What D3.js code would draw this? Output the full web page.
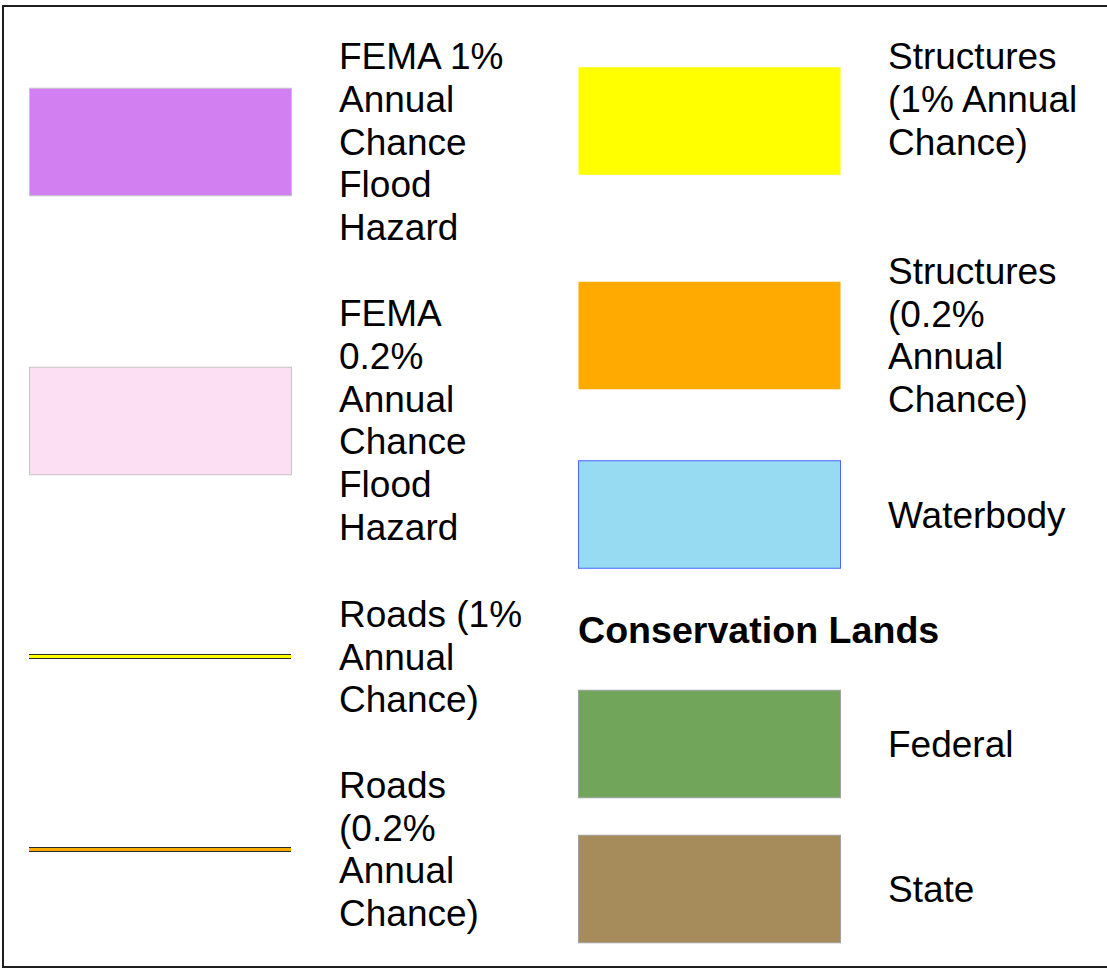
<!DOCTYPE html>
<html>
<head>
<meta charset="utf-8">
<script src="https://cdn.jsdelivr.net/npm/d3@7"></script>
<style>
html,body{margin:0;padding:0;background:#fff;}
svg{display:block;}
</style>
</head>
<body>
<svg id="chart" width="1107" height="969"></svg>
<script>
// ---- data ----
const leftLabels = [
  ["FEMA 1%", "Annual", "Chance", "Flood", "Hazard"],
  ["FEMA", "0.2%", "Annual", "Chance", "Flood", "Hazard"],
  ["Roads (1%", "Annual", "Chance)"],
  ["Roads", "(0.2%", "Annual", "Chance)"]
];
const leftKinds = ["fill", "fill", "road", "road"];
const leftColors = ["#d27ff1", "#fddff4", "#ffff00", "#ffaa00"];

const rightLabels = [
  ["Structures", "(1% Annual", "Chance)"],
  ["Structures", "(0.2%", "Annual", "Chance)"],
  ["Waterbody"],
  ["Federal"],
  ["State"]
];
const rightColors = ["#ffff00", "#ffaa00", "#97dbf2", "#70a55a", "#a68b5b"];
const sectionTitle = "Conservation Lands";

// ---- layout ----
const svg = d3.select("#chart");
const font = "'Liberation Sans', Arial, sans-serif";
const fs = 37, lh = 42.8;

svg.append("rect").attr("x", 3).attr("y", 6).attr("width", 1120).attr("height", 961)
  .attr("fill", "none").attr("stroke", "#1e1e1e").attr("stroke-width", 2);

const sw = {w: 262, h: 107.5};
const leftCenters = [142, 421, 656.5, 849.5];
const leftTextCenters = [142, 420.5, 657, 849.5];
const rightCenters = [121, 335.5, 514.5, 744, 889];
const rightTextCenters = [99.5, 335.5, 515, 744, 889];
const rightStrokes = ["none", "none", "#4a66ff", "#a0a0a0", "#a0a0a0"];
const leftStrokes = ["#c4c4c4", "#c4c4c4"];

function drawText(g, x, lines, cy) {
  const first = cy + 12.5 - (lines.length - 1) / 2 * lh;
  const t = g.append("text").attr("font-family", font).attr("font-size", fs).attr("fill", "#000");
  lines.forEach((s, i) => {
    t.append("tspan").attr("x", x).attr("y", first + i * lh).text(s);
  });
}

const gl = svg.append("g");
leftLabels.forEach((lines, i) => {
  const cy = leftCenters[i];
  if (leftKinds[i] === "fill") {
    gl.append("rect").attr("x", 29.5).attr("y", cy - sw.h / 2).attr("width", sw.w).attr("height", sw.h)
      .attr("fill", leftColors[i]).attr("stroke", leftStrokes[i]).attr("stroke-width", 1);
  } else {
    gl.append("line").attr("x1", 29).attr("x2", 291).attr("y1", cy).attr("y2", cy)
      .attr("stroke", "#2a2a2a").attr("stroke-width", 5);
    gl.append("line").attr("x1", 29).attr("x2", 291).attr("y1", cy).attr("y2", cy)
      .attr("stroke", leftColors[i]).attr("stroke-width", 3);
  }
  drawText(gl, 339, lines, leftTextCenters[i]);
});

const gr = svg.append("g");
rightLabels.forEach((lines, i) => {
  const cy = rightCenters[i];
  gr.append("rect").attr("x", 578.5).attr("y", cy - sw.h / 2).attr("width", sw.w).attr("height", sw.h)
    .attr("fill", rightColors[i]).attr("stroke", rightStrokes[i]).attr("stroke-width", 1);
  drawText(gr, 888, lines, rightTextCenters[i]);
});

svg.append("text").attr("x", 578).attr("y", 643).attr("font-family", font)
  .attr("font-size", 37.6).attr("font-weight", "bold").attr("fill", "#000").text(sectionTitle);
</script>
</body>
</html>
